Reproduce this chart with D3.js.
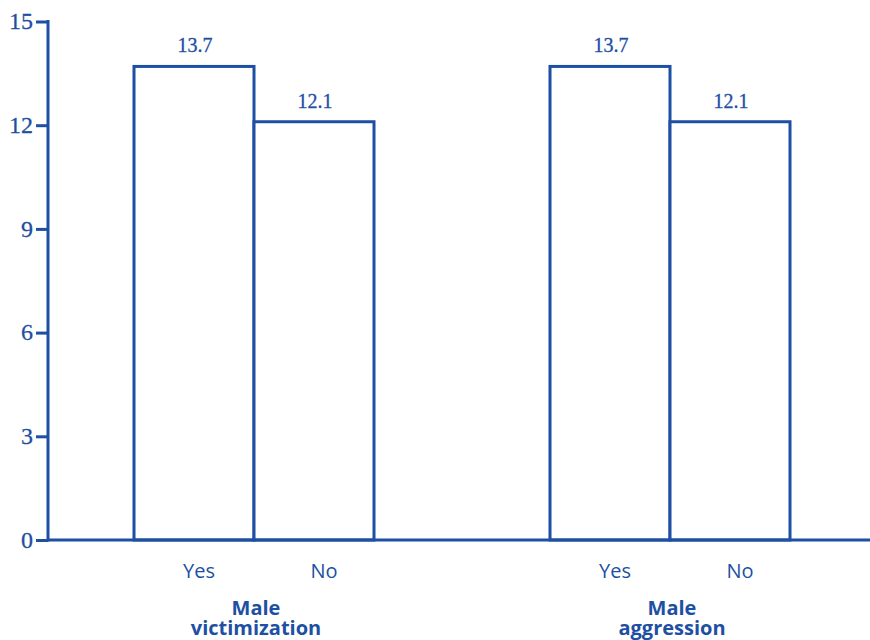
<!DOCTYPE html>
<html>
<head>
<meta charset="utf-8">
<script src="https://cdn.jsdelivr.net/npm/d3@7"></script>
<style>
  html, body { margin: 0; padding: 0; background: #fff; }
  svg { display: block; }
</style>
</head>
<body>
<svg id="chart" width="870" height="640"></svg>
<script>
// ---- data ----
const groups = ["Male victimization", "Male aggression"];
const groupLines = [["Male", "victimization"], ["Male", "aggression"]];
const answers = ["Yes", "No"];
const yesValues = [13.7, 13.7];
const noValues = [12.1, 12.1];
const yTicks = [0, 3, 6, 9, 12, 15];

// ---- layout ----
const W = 870, H = 640;
const COLOR = "#1d4fa3";
const svg = d3.select("#chart");

const x0 = d3.scaleBand()
  .domain(groups)
  .range([48, 876])
  .paddingInner(176 / 416)
  .paddingOuter(86 / 416);

const x1 = d3.scaleBand()
  .domain(answers)
  .range([0, x0.bandwidth()])
  .padding(0);

const y = d3.scaleLinear().domain([0, 15]).range([540, 21.5]);

const rows = [];
groups.forEach((g, i) => {
  rows.push({ group: g, answer: "Yes", value: yesValues[i] });
  rows.push({ group: g, answer: "No", value: noValues[i] });
});

// bars
svg.append("g").selectAll("rect").data(rows).join("rect")
  .attr("x", d => x0(d.group) + x1(d.answer))
  .attr("y", d => y(d.value))
  .attr("width", x1.bandwidth())
  .attr("height", d => y(0) - y(d.value))
  .attr("fill", "#fff")
  .attr("stroke", COLOR)
  .attr("stroke-width", 3);

// value labels
svg.append("g").selectAll("text").data(rows).join("text")
  .attr("x", d => x0(d.group) + x1(d.answer) + x1.bandwidth() / 2 + 1)
  .attr("y", d => y(d.value) - 14)
  .attr("text-anchor", "middle")
  .attr("font-family", "'Liberation Serif', 'Times New Roman', serif")
  .attr("font-size", 20)
  .attr("fill", COLOR)
  .attr("stroke", COLOR)
  .attr("stroke-width", 0.3)
  .text(d => d.value.toFixed(1));

// y axis
const yAxis = d3.axisLeft(y).tickValues(yTicks).tickSize(12).tickSizeOuter(0).tickPadding(3);
const gy = svg.append("g").attr("transform", "translate(48,0)").call(yAxis);
gy.select(".domain").attr("stroke", COLOR).attr("stroke-width", 3)
  .attr("d", `M0,${y(15) - 1.5}V${y(0) + 1.5}`);
gy.selectAll(".tick line").attr("stroke", COLOR).attr("stroke-width", 3);
gy.selectAll(".tick text")
  .attr("fill", COLOR)
  .attr("stroke", COLOR)
  .attr("stroke-width", 0.3)
  .attr("font-family", "'Liberation Serif', 'Times New Roman', serif")
  .attr("font-size", 24)
  .attr("dy", "0.3em");

// x baseline
svg.append("line")
  .attr("x1", 48).attr("x2", W)
  .attr("y1", y(0)).attr("y2", y(0))
  .attr("stroke", COLOR).attr("stroke-width", 3);

// category labels
svg.append("g").selectAll("text").data(rows).join("text")
  .attr("x", d => x0(d.group) + x1(d.answer) + x1.bandwidth() / 2 + (d.answer === "Yes" ? 5 : 10))
  .attr("y", 578)
  .attr("text-anchor", "middle")
  .attr("font-family", "'Open Sans', 'Noto Sans', sans-serif")
  .attr("font-size", 20)
  .attr("fill", COLOR)
  .text(d => d.answer);

// group labels
groups.forEach((g, i) => {
  const cx = x0(g) + x0.bandwidth() / 2 + 2;
  const t = svg.append("text")
    .attr("x", cx)
    .attr("y", 615)
    .attr("text-anchor", "middle")
    .attr("font-family", "'Open Sans', 'Noto Sans', sans-serif")
    .attr("font-weight", "bold")
    .attr("font-size", 20)
    .attr("fill", COLOR);
  groupLines[i].forEach((line, j) => {
    t.append("tspan")
      .attr("x", cx)
      .attr("dy", j === 0 ? 0 : 20)
      .text(line);
  });
});
</script>
</body>
</html>
